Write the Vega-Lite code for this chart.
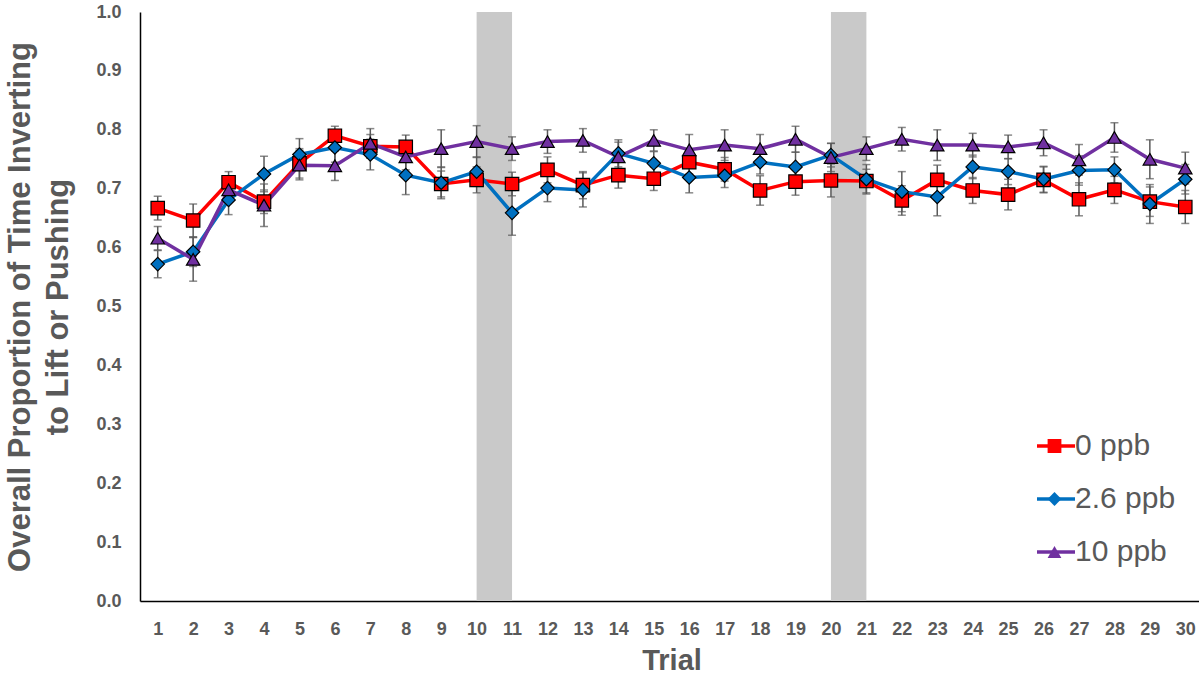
{
  "$schema": "https://vega.github.io/schema/vega-lite/v6.json",
  "width": 1063,
  "height": 589,
  "autosize": {"type": "none"},
  "padding": {"left": 140, "top": 12, "right": 0, "bottom": 75},
  "background": "white",
  "config": {
    "view": {"stroke": null},
    "font": "Liberation Sans",
    "axisX": {"domainColor": "#000000", "domainWidth": 1.5, "ticks": false, "tickSize": 0, "grid": false, "labelFont": "Liberation Sans", "labelFontSize": 18, "labelFontWeight": "bold", "labelColor": "#595959", "labelPadding": 19, "labelAngle": 0, "titleFont": "Liberation Sans", "titleFontSize": 29, "titleFontWeight": "bold", "titleColor": "#595959", "titlePadding": 8},
    "axisY": {"domainColor": "#000000", "domainWidth": 1.5, "ticks": false, "tickSize": 0, "grid": false, "labelFont": "Liberation Sans", "labelFontSize": 18, "labelFontWeight": "bold", "labelColor": "#595959", "labelPadding": 19, "titleFont": "Liberation Sans", "titleFontSize": 31, "titleFontWeight": "bold", "titleColor": "#595959", "titleAngle": -90, "titleAlign": "center", "titleBaseline": "alphabetic", "titleX": -111, "titleY": 294.5, "titleLineHeight": 38}
  },
  "datasets": {
    "bands": [{"start": 10, "end": 11}, {"start": 20, "end": 21}],
    "trials": [
      {"trial": 1, "conc": "0 ppb", "mean": 0.667, "se": 0.02},
      {"trial": 2, "conc": "0 ppb", "mean": 0.646, "se": 0.028},
      {"trial": 3, "conc": "0 ppb", "mean": 0.711, "se": 0.018},
      {"trial": 4, "conc": "0 ppb", "mean": 0.678, "se": 0.02},
      {"trial": 5, "conc": "0 ppb", "mean": 0.743, "se": 0.025},
      {"trial": 6, "conc": "0 ppb", "mean": 0.79, "se": 0.016},
      {"trial": 7, "conc": "0 ppb", "mean": 0.772, "se": 0.02},
      {"trial": 8, "conc": "0 ppb", "mean": 0.771, "se": 0.02},
      {"trial": 9, "conc": "0 ppb", "mean": 0.708, "se": 0.022},
      {"trial": 10, "conc": "0 ppb", "mean": 0.715, "se": 0.022},
      {"trial": 11, "conc": "0 ppb", "mean": 0.708, "se": 0.02},
      {"trial": 12, "conc": "0 ppb", "mean": 0.732, "se": 0.022},
      {"trial": 13, "conc": "0 ppb", "mean": 0.706, "se": 0.023},
      {"trial": 14, "conc": "0 ppb", "mean": 0.723, "se": 0.022},
      {"trial": 15, "conc": "0 ppb", "mean": 0.717, "se": 0.02},
      {"trial": 16, "conc": "0 ppb", "mean": 0.745, "se": 0.02},
      {"trial": 17, "conc": "0 ppb", "mean": 0.733, "se": 0.02},
      {"trial": 18, "conc": "0 ppb", "mean": 0.697, "se": 0.025},
      {"trial": 19, "conc": "0 ppb", "mean": 0.712, "se": 0.023},
      {"trial": 20, "conc": "0 ppb", "mean": 0.714, "se": 0.028},
      {"trial": 21, "conc": "0 ppb", "mean": 0.713, "se": 0.02},
      {"trial": 22, "conc": "0 ppb", "mean": 0.68, "se": 0.025},
      {"trial": 23, "conc": "0 ppb", "mean": 0.715, "se": 0.025},
      {"trial": 24, "conc": "0 ppb", "mean": 0.697, "se": 0.022},
      {"trial": 25, "conc": "0 ppb", "mean": 0.69, "se": 0.026},
      {"trial": 26, "conc": "0 ppb", "mean": 0.715, "se": 0.022},
      {"trial": 27, "conc": "0 ppb", "mean": 0.682, "se": 0.028},
      {"trial": 28, "conc": "0 ppb", "mean": 0.698, "se": 0.023},
      {"trial": 29, "conc": "0 ppb", "mean": 0.678, "se": 0.025},
      {"trial": 30, "conc": "0 ppb", "mean": 0.669, "se": 0.028},
      {"trial": 1, "conc": "2.6 ppb", "mean": 0.572, "se": 0.023},
      {"trial": 2, "conc": "2.6 ppb", "mean": 0.593, "se": 0.025},
      {"trial": 3, "conc": "2.6 ppb", "mean": 0.681, "se": 0.025},
      {"trial": 4, "conc": "2.6 ppb", "mean": 0.725, "se": 0.03},
      {"trial": 5, "conc": "2.6 ppb", "mean": 0.758, "se": 0.027},
      {"trial": 6, "conc": "2.6 ppb", "mean": 0.77, "se": 0.025},
      {"trial": 7, "conc": "2.6 ppb", "mean": 0.758, "se": 0.026},
      {"trial": 8, "conc": "2.6 ppb", "mean": 0.723, "se": 0.033},
      {"trial": 9, "conc": "2.6 ppb", "mean": 0.71, "se": 0.027},
      {"trial": 10, "conc": "2.6 ppb", "mean": 0.729, "se": 0.025},
      {"trial": 11, "conc": "2.6 ppb", "mean": 0.659, "se": 0.038},
      {"trial": 12, "conc": "2.6 ppb", "mean": 0.701, "se": 0.023},
      {"trial": 13, "conc": "2.6 ppb", "mean": 0.698, "se": 0.029},
      {"trial": 14, "conc": "2.6 ppb", "mean": 0.76, "se": 0.023},
      {"trial": 15, "conc": "2.6 ppb", "mean": 0.743, "se": 0.02},
      {"trial": 16, "conc": "2.6 ppb", "mean": 0.719, "se": 0.026},
      {"trial": 17, "conc": "2.6 ppb", "mean": 0.722, "se": 0.02},
      {"trial": 18, "conc": "2.6 ppb", "mean": 0.745, "se": 0.02},
      {"trial": 19, "conc": "2.6 ppb", "mean": 0.737, "se": 0.025},
      {"trial": 20, "conc": "2.6 ppb", "mean": 0.757, "se": 0.02},
      {"trial": 21, "conc": "2.6 ppb", "mean": 0.716, "se": 0.025},
      {"trial": 22, "conc": "2.6 ppb", "mean": 0.695, "se": 0.034},
      {"trial": 23, "conc": "2.6 ppb", "mean": 0.686, "se": 0.032},
      {"trial": 24, "conc": "2.6 ppb", "mean": 0.737, "se": 0.02},
      {"trial": 25, "conc": "2.6 ppb", "mean": 0.729, "se": 0.022},
      {"trial": 26, "conc": "2.6 ppb", "mean": 0.716, "se": 0.022},
      {"trial": 27, "conc": "2.6 ppb", "mean": 0.731, "se": 0.025},
      {"trial": 28, "conc": "2.6 ppb", "mean": 0.732, "se": 0.022},
      {"trial": 29, "conc": "2.6 ppb", "mean": 0.674, "se": 0.033},
      {"trial": 30, "conc": "2.6 ppb", "mean": 0.716, "se": 0.025},
      {"trial": 1, "conc": "10 ppb", "mean": 0.616, "se": 0.02},
      {"trial": 2, "conc": "10 ppb", "mean": 0.58, "se": 0.037},
      {"trial": 3, "conc": "10 ppb", "mean": 0.698, "se": 0.02},
      {"trial": 4, "conc": "10 ppb", "mean": 0.672, "se": 0.036},
      {"trial": 5, "conc": "10 ppb", "mean": 0.74, "se": 0.025},
      {"trial": 6, "conc": "10 ppb", "mean": 0.739, "se": 0.025},
      {"trial": 7, "conc": "10 ppb", "mean": 0.777, "se": 0.025},
      {"trial": 8, "conc": "10 ppb", "mean": 0.754, "se": 0.022},
      {"trial": 9, "conc": "10 ppb", "mean": 0.768, "se": 0.032},
      {"trial": 10, "conc": "10 ppb", "mean": 0.78, "se": 0.027},
      {"trial": 11, "conc": "10 ppb", "mean": 0.768, "se": 0.02},
      {"trial": 12, "conc": "10 ppb", "mean": 0.78, "se": 0.02},
      {"trial": 13, "conc": "10 ppb", "mean": 0.782, "se": 0.02},
      {"trial": 14, "conc": "10 ppb", "mean": 0.754, "se": 0.025},
      {"trial": 15, "conc": "10 ppb", "mean": 0.782, "se": 0.018},
      {"trial": 16, "conc": "10 ppb", "mean": 0.766, "se": 0.026},
      {"trial": 17, "conc": "10 ppb", "mean": 0.774, "se": 0.026},
      {"trial": 18, "conc": "10 ppb", "mean": 0.768, "se": 0.024},
      {"trial": 19, "conc": "10 ppb", "mean": 0.784, "se": 0.022},
      {"trial": 20, "conc": "10 ppb", "mean": 0.753, "se": 0.024},
      {"trial": 21, "conc": "10 ppb", "mean": 0.768, "se": 0.02},
      {"trial": 22, "conc": "10 ppb", "mean": 0.784, "se": 0.02},
      {"trial": 23, "conc": "10 ppb", "mean": 0.774, "se": 0.026},
      {"trial": 24, "conc": "10 ppb", "mean": 0.774, "se": 0.02},
      {"trial": 25, "conc": "10 ppb", "mean": 0.771, "se": 0.02},
      {"trial": 26, "conc": "10 ppb", "mean": 0.778, "se": 0.022},
      {"trial": 27, "conc": "10 ppb", "mean": 0.749, "se": 0.026},
      {"trial": 28, "conc": "10 ppb", "mean": 0.787, "se": 0.025},
      {"trial": 29, "conc": "10 ppb", "mean": 0.75, "se": 0.033},
      {"trial": 30, "conc": "10 ppb", "mean": 0.735, "se": 0.027}
    ]
  },
  "layer": [
    {
      "data": {"name": "bands"},
      "mark": {"type": "rect", "color": "#C9C9C9"},
      "encoding": {
        "x": {"field": "start", "type": "quantitative", "title": "Trial", "scale": {"domain": [0.5, 30.5], "nice": false, "zero": false}, "axis": {"values": [1,2,3,4,5,6,7,8,9,10,11,12,13,14,15,16,17,18,19,20,21,22,23,24,25,26,27,28,29,30], "format": "d"}},
        "x2": {"field": "end"}
      }
    },
    {
      "data": {"name": "trials"},
      "encoding": {
        "x": {"field": "trial", "type": "quantitative", "title": "Trial", "scale": {"domain": [0.5, 30.5], "nice": false, "zero": false}, "axis": {"values": [1,2,3,4,5,6,7,8,9,10,11,12,13,14,15,16,17,18,19,20,21,22,23,24,25,26,27,28,29,30], "format": "d"}},
        "y": {"field": "mean", "type": "quantitative", "title": ["Overall Proportion of Time Inverting", "to Lift or Pushing"], "scale": {"domain": [0, 1], "nice": false}, "axis": {"values": [0, 0.1, 0.2, 0.3, 0.4, 0.5, 0.6, 0.7, 0.8, 0.9, 1.0], "format": ".1f"}}
      },
      "layer": [
        {
          "mark": {"type": "errorbar", "color": "#595959", "thickness": 1.5, "ticks": {"size": 8, "thickness": 1.5, "color": "#595959"}},
          "encoding": {"yError": {"field": "se"}}
        },
        {
          "mark": {"type": "line", "strokeWidth": 3.5},
          "encoding": {
            "stroke": {"field": "conc", "type": "nominal", "sort": ["0 ppb", "2.6 ppb", "10 ppb"], "scale": {"range": ["#FF0000", "#0070C0", "#7030A0"]},
              "legend": {"orient": "none", "legendX": 895, "legendY": 418, "title": null, "padding": 0, "symbolType": "stroke", "symbolSize": 1444, "symbolStrokeWidth": 3.5, "labelOffset": -2, "labelFont": "Liberation Sans", "labelFontSize": 30, "labelColor": "#595959", "clipHeight": 32, "rowPadding": 21}}
          }
        },
        {
          "mark": {"type": "point", "filled": true, "opacity": 1, "stroke": "#000000", "strokeWidth": 1.2, "size": 180},
          "encoding": {
            "fill": {"field": "conc", "type": "nominal", "scale": {"domain": ["0 ppb", "2.6 ppb", "10 ppb"], "range": ["#FF0000", "#0070C0", "#7030A0"]},
              "legend": {"orient": "none", "legendX": 895, "legendY": 418, "title": null, "padding": 0, "symbolSize": 190, "symbolOffset": 4.5, "symbolStrokeColor": "#000000", "symbolStrokeWidth": 1.2, "symbolOpacity": 1, "labelOffset": 3, "labelFont": "Liberation Sans", "labelFontSize": 30, "labelOpacity": 0, "labelExpr": "''", "clipHeight": 32, "rowPadding": 21}},
            "shape": {"field": "conc", "type": "nominal", "scale": {"domain": ["0 ppb", "2.6 ppb", "10 ppb"], "range": ["square", "diamond", "triangle-up"]},
              "legend": {"orient": "none", "legendX": 895, "legendY": 418, "title": null, "padding": 0, "symbolSize": 190, "symbolOffset": 4.5, "symbolStrokeColor": "#000000", "symbolStrokeWidth": 1.2, "symbolOpacity": 1, "labelOffset": 3, "labelFont": "Liberation Sans", "labelFontSize": 30, "labelOpacity": 0, "labelExpr": "''", "clipHeight": 32, "rowPadding": 21}}
          }
        }
      ]
    }
  ]
}
